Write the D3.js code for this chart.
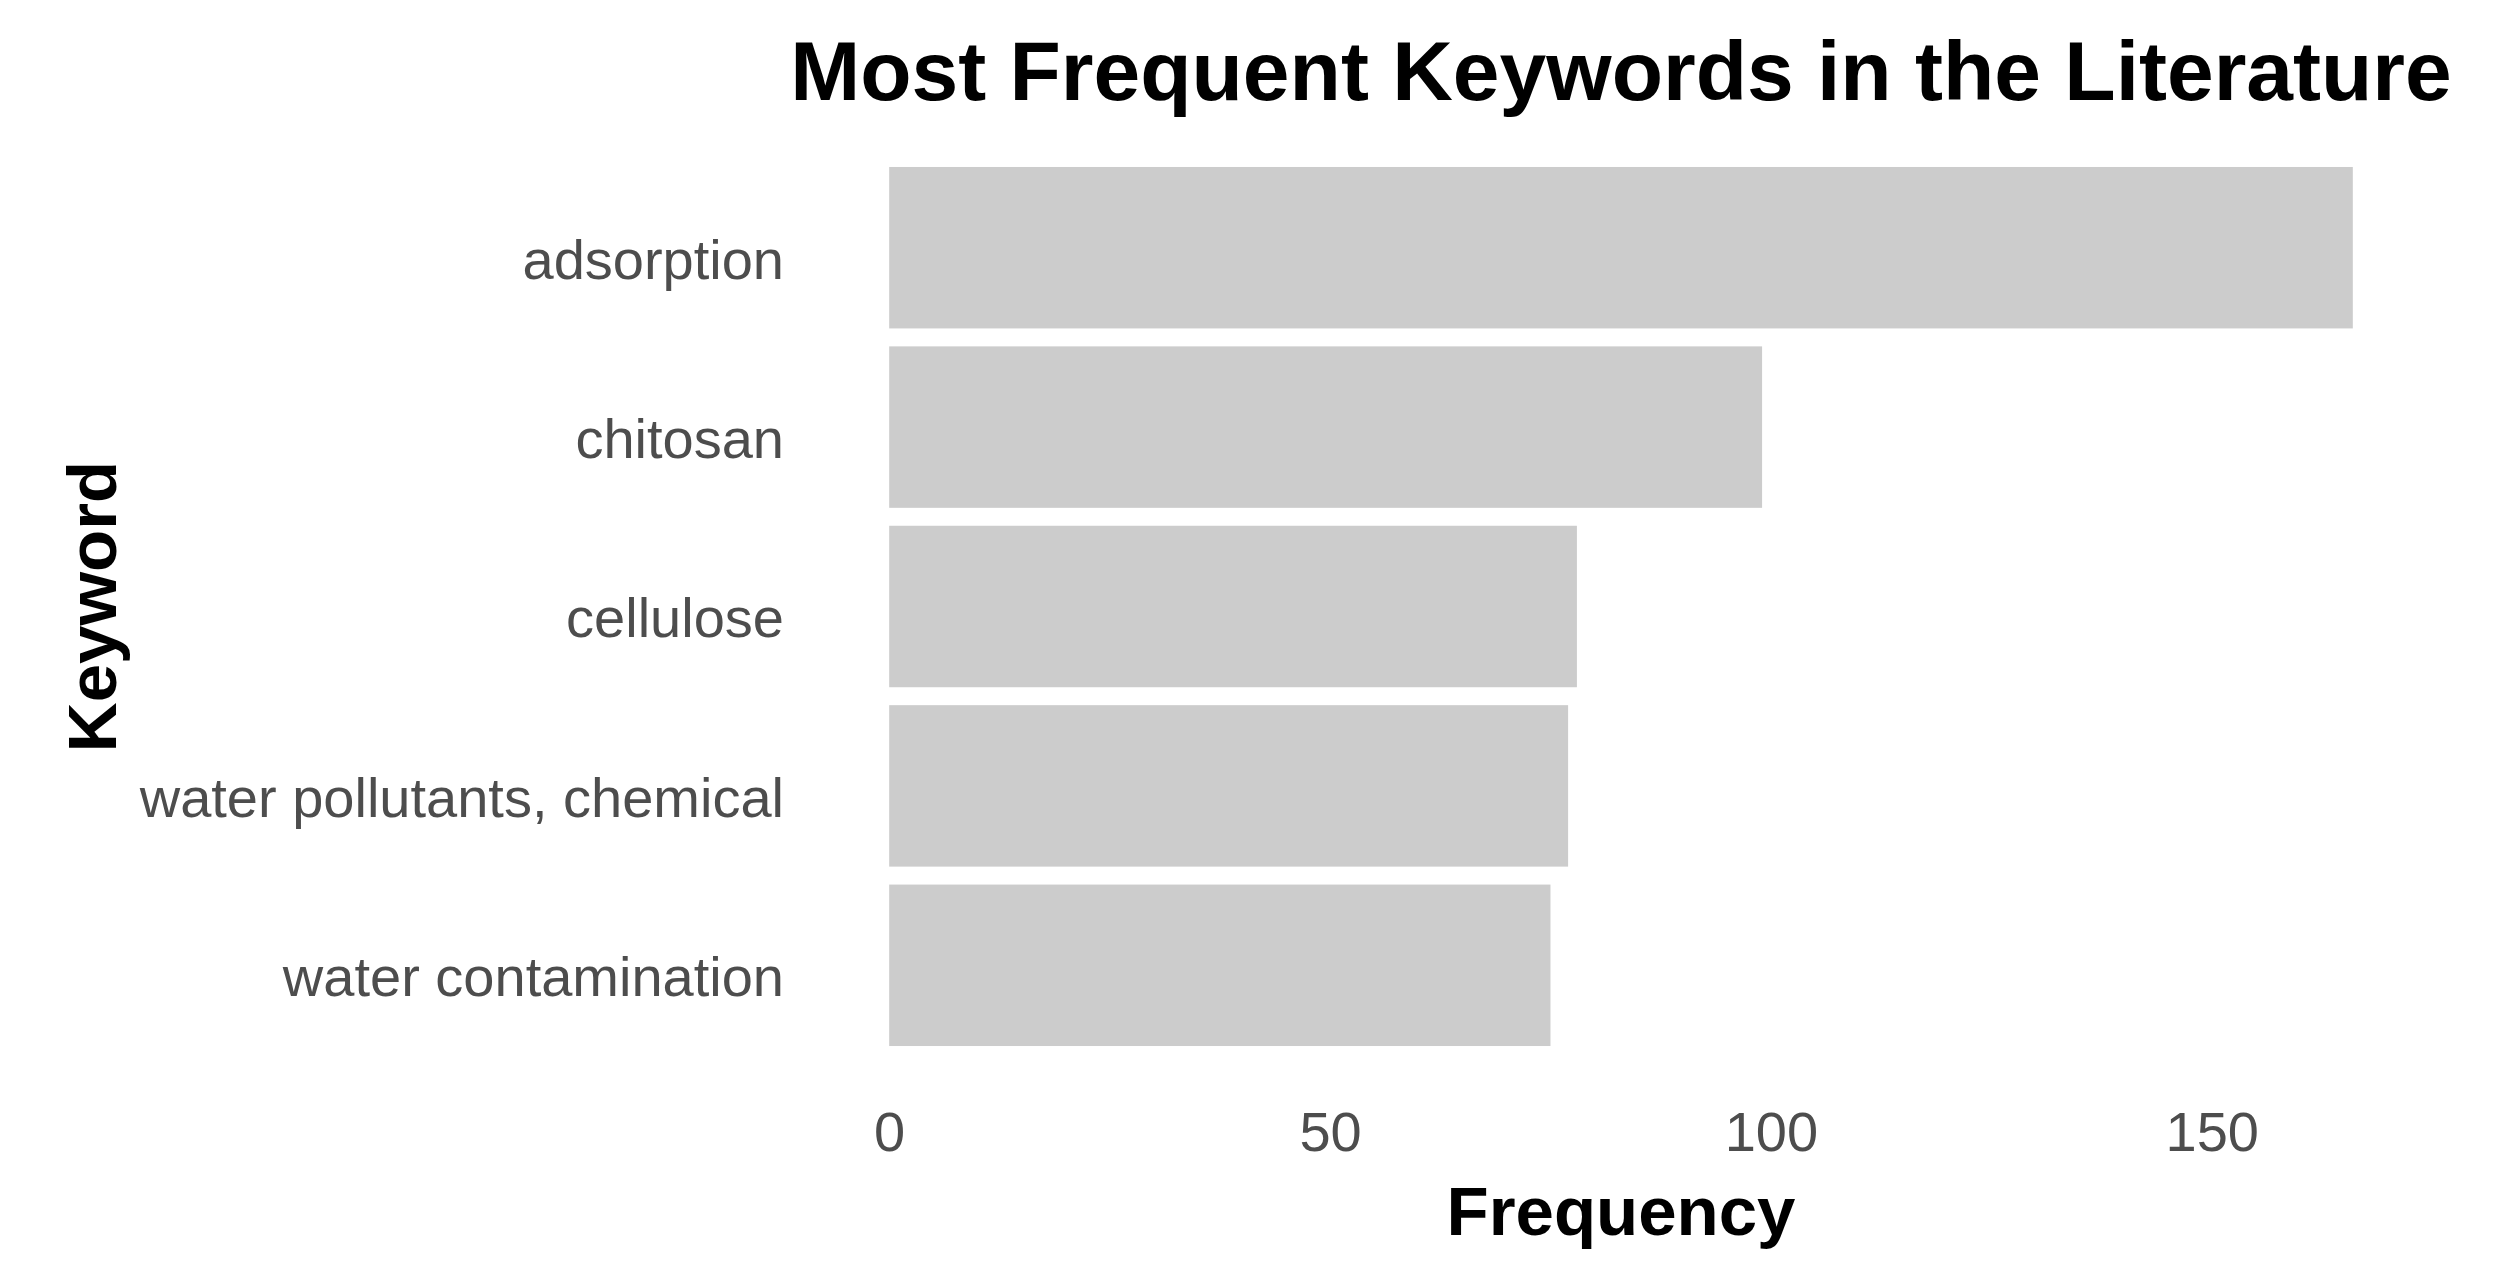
<!DOCTYPE html>
<html lang="en">
<head>
    <meta charset="UTF-8">
    <title>Most Frequent Keywords in the Literature</title>
    <script src="https://d3js.org/d3.v7.min.js"></script>
    <style>
        body {
            margin: 0;
            background: #ffffff;
            font-family: "Liberation Sans", Arial, sans-serif;
        }

        .tick-label {
            font-size: 56px;
            fill: #4d4d4d;
        }

        .axis-title {
            font-size: 69px;
            font-weight: bold;
            fill: #000000;
        }

        .chart-title {
            font-size: 84px;
            font-weight: bold;
            fill: #000000;
        }

        .bar {
            fill: #cccccc;
        }
    </style>
</head>
<body>

<svg id="bar-chart" width="2500" height="1279"></svg>

<script>
    // Data
    const keywords = ["adsorption", "chitosan", "cellulose", "water pollutants, chemical", "water contamination"];
    const frequencies = [166, 99, 78, 77, 75];
    const xTicks = [0, 50, 100, 150];

    // Panel bounds
    const panel = { left: 816, right: 2426, top: 158, bottom: 1055 };

    const svg = d3.select("#bar-chart");

    // Scales
    const x = d3.scaleLinear()
                .domain([-8.3, d3.max(frequencies) * 1.05])
                .range([panel.left, panel.right]);

    const y = d3.scaleBand()
                .domain(keywords)
                .range([panel.top, panel.bottom])
                .paddingInner(0.1)
                .paddingOuter(0.05);

    // Bars
    svg.append("g")
       .selectAll("rect")
       .data(keywords)
       .join("rect")
       .attr("class", "bar")
       .attr("x", x(0))
       .attr("y", d => y(d))
       .attr("width", (d, i) => x(frequencies[i]) - x(0))
       .attr("height", y.bandwidth());

    // Y axis (labels only)
    const yAxis = svg.append("g")
                     .attr("transform", `translate(${panel.left - 32},0)`)
                     .call(d3.axisLeft(y).tickSize(0).tickPadding(0));
    yAxis.select(".domain").remove();
    yAxis.selectAll("text")
         .attr("class", "tick-label")
         .attr("fill", null)
         .attr("font-family", null)
         .attr("font-size", null)
         .attr("dy", "0.55em");

    // X axis (labels only)
    const xAxis = svg.append("g")
                     .attr("transform", `translate(0,${panel.bottom + 56})`)
                     .call(d3.axisBottom(x).tickValues(xTicks).tickSize(0).tickPadding(0));
    xAxis.select(".domain").remove();
    xAxis.selectAll("text")
         .attr("class", "tick-label")
         .attr("fill", null)
         .attr("font-family", null)
         .attr("font-size", null)
         .attr("dy", "0.71em");

    // Axis titles
    svg.append("text")
       .attr("class", "axis-title")
       .attr("x", (panel.left + panel.right) / 2)
       .attr("y", 1235)
       .attr("text-anchor", "middle")
       .text("Frequency");

    svg.append("text")
       .attr("class", "axis-title")
       .attr("transform", `translate(116,${(panel.top + panel.bottom) / 2}) rotate(-90)`)
       .attr("text-anchor", "middle")
       .text("Keyword");

    // Title
    svg.append("text")
       .attr("class", "chart-title")
       .attr("x", (panel.left + panel.right) / 2)
       .attr("y", 100)
       .attr("text-anchor", "middle")
       .text("Most Frequent Keywords in the Literature");
</script>

</body>
</html>
